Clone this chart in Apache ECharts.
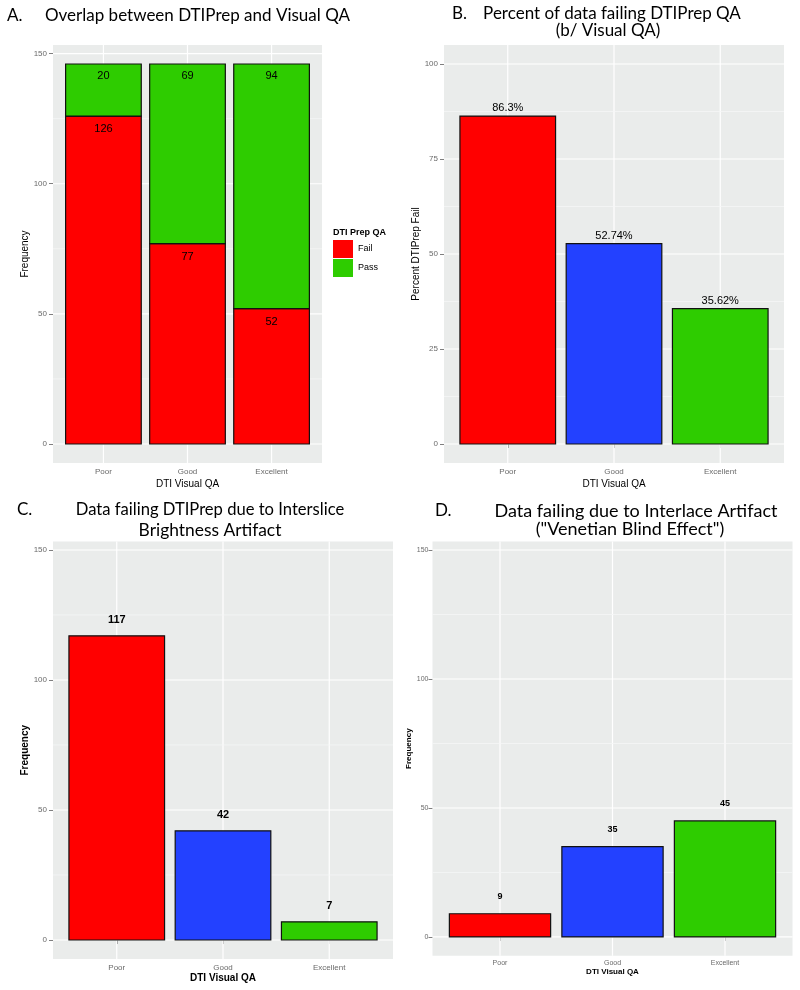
<!DOCTYPE html>
<html><head><meta charset="utf-8">
<script src="https://cdn.jsdelivr.net/npm/echarts@6/dist/echarts.min.js"></script>
<style>html,body{margin:0;padding:0;background:#fff}#c{width:800px;height:990px}</style>
</head><body><div id="c"></div>
<script>
// ---------- data ----------
const categories = ['Poor', 'Good', 'Excellent'];
const failCounts = [126, 77, 52];
const passCounts = [20, 69, 94];
const percentFail = [86.3, 52.74, 35.62];
const percentLabels = ['86.3%', '52.74%', '35.62%'];
const intersliceCounts = [117, 42, 7];
const interlaceCounts = [9, 35, 45];
const countTicks = [0, 50, 100, 150];
const countMinorTicks = [25, 75, 125];
const percentTicks = [0, 25, 50, 75, 100];
const percentMinorTicks = [12.5, 37.5, 62.5, 87.5];
const legendNames = ['Fail', 'Pass'];

// ---------- styles ----------
const RED = '#FF0000', BLUE = '#2341FF', GREEN = '#2ECC00';
const catColors = [RED, BLUE, GREEN];
const PANEL_BG = '#EAECEB';
const AX_FONT = '"Liberation Sans", Arial, sans-serif';
const TITLE_FONT = 'Lato, "Open Sans", sans-serif';
const xPos = categories.map((c, i) => i + 1);

const panels = [
  {left: 53, top: 45, width: 269, height: 418, ymin: -7.3, ymax: 153.3, ticks: countTicks, minors: countMinorTicks,
   yName: 'Frequency', yGap: 20, yNameSize: 10, yNameWeight: 'normal', tickFont: 8, yMargin: 6,
   xGap: 16, xNameSize: 10, xNameWeight: 'normal', xMargin: 5},
  {left: 444, top: 45, width: 340, height: 418, ymin: -5, ymax: 105, ticks: percentTicks, minors: percentMinorTicks,
   yName: 'Percent DTIPrep Fail', yGap: 21, yNameSize: 10, yNameWeight: 'normal', tickFont: 8, yMargin: 6,
   xGap: 16, xNameSize: 10, xNameWeight: 'normal', xMargin: 5},
  {left: 53, top: 541.4, width: 340, height: 417.6, ymin: -7.3, ymax: 153.3, ticks: countTicks, minors: countMinorTicks,
   yName: 'Frequency', yGap: 20, yNameSize: 10, yNameWeight: 'bold', tickFont: 8, yMargin: 6,
   xGap: 14, xNameSize: 10, xNameWeight: 'bold', xMargin: 5},
  {left: 432.5, top: 541.5, width: 360, height: 414.3, ymin: -7.3, ymax: 153.3, ticks: countTicks, minors: countMinorTicks,
   yName: 'Frequency', yGap: 13, yNameSize: 8, yNameWeight: 'bold', tickFont: 7, yMargin: 4,
   xGap: 12, xNameSize: 8, xNameWeight: 'bold', xMargin: 4}
];

const grids = [], xAxes = [], yAxes = [], series = [];

panels.forEach((p, i) => {
  grids.push({left: p.left, top: p.top, width: p.width, height: p.height, show: true,
    backgroundColor: PANEL_BG, borderWidth: 0, containLabel: false});
  xAxes.push({type: 'value', gridIndex: i, min: 0.4, max: 3.6,
    axisLine: {show: false}, splitLine: {show: false},
    axisTick: {show: true, customValues: xPos, length: 4, lineStyle: {color: '#7f7f7f', width: 1}},
    axisLabel: {customValues: xPos, formatter: v => categories[Math.round(v) - 1] || '',
      color: '#6a6a6a', fontSize: p.tickFont, fontFamily: AX_FONT, margin: p.xMargin},
    name: 'DTI Visual QA', nameLocation: 'middle', nameGap: p.xGap,
    nameTextStyle: {color: '#000', fontSize: p.xNameSize, fontWeight: p.xNameWeight, fontFamily: AX_FONT}});
  yAxes.push({type: 'value', gridIndex: i, min: p.ymin, max: p.ymax,
    axisLine: {show: false}, splitLine: {show: false},
    axisTick: {show: true, customValues: p.ticks, length: 4, lineStyle: {color: '#7f7f7f', width: 1}},
    axisLabel: {customValues: p.ticks, color: '#6a6a6a', fontSize: p.tickFont, fontFamily: AX_FONT, margin: p.yMargin},
    name: p.yName, nameLocation: 'middle', nameGap: p.yGap, nameRotate: 90,
    nameTextStyle: {color: '#000', fontSize: p.yNameSize, fontWeight: p.yNameWeight, fontFamily: AX_FONT}});

  // panel grid lines (drawn through the axes' scales)
  const gl = [];
  xPos.forEach(v => gl.push([v, 0, 0]));
  p.ticks.forEach(t => gl.push([1, t, 1]));
  p.minors.forEach(t => gl.push([1, t, 2]));
  series.push({type: 'custom', name: 'grid' + i, xAxisIndex: i, yAxisIndex: i, z: 1, silent: true,
    data: gl,
    renderItem(params, api) {
      const cs = params.coordSys;
      const kind = api.value(2);
      if (kind === 0) {
        const x = api.coord([api.value(0), 0])[0];
        return {type: 'line', shape: {x1: x, y1: cs.y, x2: x, y2: cs.y + cs.height},
          style: {stroke: '#ffffff', lineWidth: 1.2}};
      }
      const y = api.coord([1, api.value(1)])[1];
      return {type: 'line', shape: {x1: cs.x, y1: y, x2: cs.x + cs.width, y2: y},
        style: {stroke: kind === 1 ? '#ffffff' : '#F5F6F6', lineWidth: kind === 1 ? 1.2 : 0.8}};
    }});
});

function barSeries(name, gi, bottoms, tops, labels, colorFn, labelDy, labelFont) {
  return {type: 'custom', name, xAxisIndex: gi, yAxisIndex: gi, z: 3,
    itemStyle: {color: colorFn(0)},
    data: xPos.map((x, k) => [x, bottoms[k], tops[k]]),
    renderItem(params, api) {
      const x = api.value(0), y0 = api.value(1), y1 = api.value(2);
      const a = api.coord([x - 0.45, y0]);
      const b = api.coord([x + 0.45, y1]);
      const k = params.dataIndex;
      return {type: 'group', children: [
        {type: 'rect', shape: {x: a[0], y: b[1], width: b[0] - a[0], height: a[1] - b[1]},
          style: {fill: colorFn(k), stroke: '#111', lineWidth: 1.2}},
        {type: 'text', z2: 10, style: {text: labels[k], x: (a[0] + b[0]) / 2, y: b[1] + labelDy,
          align: 'center', verticalAlign: 'middle', textAlign: 'center', textVerticalAlign: 'middle',
          fill: '#000', font: labelFont}}
      ]};
    }};
}

const zeros = categories.map(() => 0);
const stackTops = failCounts.map((f, k) => f + passCounts[k]);
series.push(barSeries('Fail', 0, zeros, failCounts, failCounts.map(String), () => RED, 13, '11px ' + AX_FONT));
series.push(barSeries('Pass', 0, failCounts, stackTops, passCounts.map(String), () => GREEN, 12, '11px ' + AX_FONT));
series.push(barSeries('Percent', 1, zeros, percentFail, percentLabels, k => catColors[k], -8, '11px ' + AX_FONT));
series.push(barSeries('Interslice', 2, zeros, intersliceCounts, intersliceCounts.map(String), k => catColors[k], -16, 'bold 11px ' + AX_FONT));
series.push(barSeries('Interlace', 3, zeros, interlaceCounts, interlaceCounts.map(String), k => catColors[k], -17, 'bold 9px ' + AX_FONT));

function t(text, x, y, size, align) {
  return {type: 'text', x, y, silent: true, style: {text, fill: '#000', font: size + 'px ' + TITLE_FONT,
    align: align || 'left', verticalAlign: 'middle', textAlign: align || 'left', textVerticalAlign: 'middle'}};
}

const graphics = [
  t('A.', 7, 16, 17), t('Overlap between DTIPrep and Visual QA', 45, 16, 17),
  t('B.', 452, 14, 17), t('Percent of data failing DTIPrep QA', 612, 14, 17, 'center'),
  t('(b/ Visual QA)', 608, 31, 17, 'center'),
  t('C.', 17, 510, 17), t('Data failing DTIPrep due to Interslice', 210, 510, 16.6, 'center'),
  t('Brightness Artifact', 210, 530, 17.4, 'center'),
  t('D.', 435, 511, 17), t('Data failing due to Interlace Artifact', 636, 511, 18, 'center'),
  t('("Venetian Blind Effect")', 630, 529, 18, 'center'),
  {type: 'text', x: 333, y: 233, silent: true, style: {text: 'DTI Prep QA', fill: '#000',
    font: 'bold 9px ' + AX_FONT, align: 'left', verticalAlign: 'middle', textAlign: 'left', textVerticalAlign: 'middle'}}
];

const chart = echarts.init(document.getElementById('c'), null, {renderer: 'canvas'});
chart.setOption({
  animation: false,
  backgroundColor: '#ffffff',
  grid: grids, xAxis: xAxes, yAxis: yAxes, series,
  legend: {data: legendNames, orient: 'vertical', left: 333, top: 240, padding: 0,
    itemWidth: 20, itemHeight: 18, itemGap: 1, icon: 'rect', selectedMode: false,
    textStyle: {fontSize: 9, color: '#000', fontFamily: AX_FONT}},
  graphic: graphics
});
</script></body></html>
